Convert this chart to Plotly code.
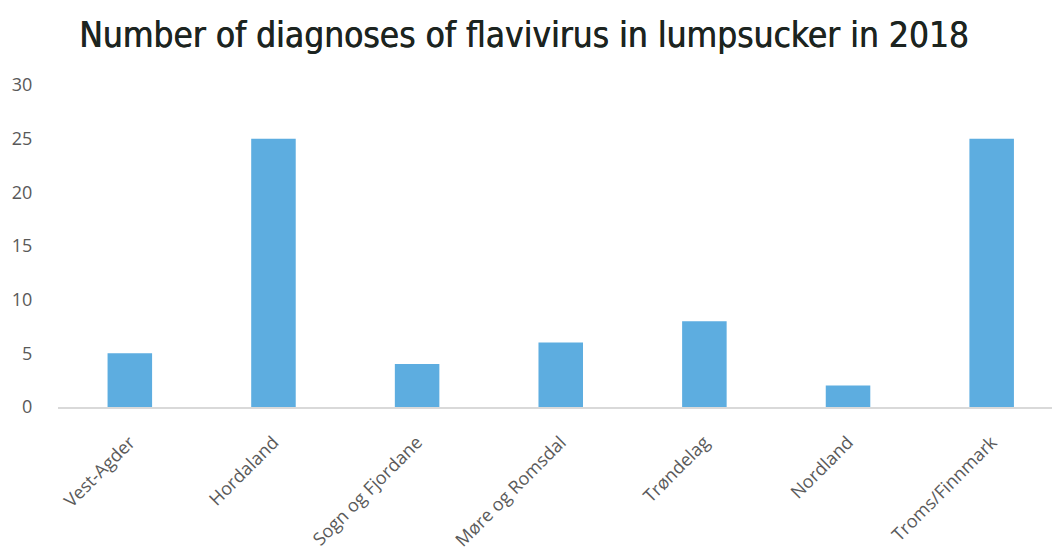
import plotly.graph_objects as go

# Diagnoses per county
counties = ["Vest-Agder", "Hordaland", "Sogn og Fjordane", "Møre og Romsdal",
            "Trøndelag", "Nordland", "Troms/Finnmark"]
diagnoses = [5, 25, 4, 6, 8, 2, 25]
y_ticks = [0, 5, 10, 15, 20, 25, 30]

fig = go.Figure(
    go.Bar(
        x=counties,
        y=diagnoses,
        width=0.31,
        marker=dict(color="#5DADE0", line=dict(width=0)),
    )
)

fig.update_layout(
    width=1052,
    height=553,
    margin=dict(l=58, r=0, t=85, b=146, autoexpand=False),
    paper_bgcolor="white",
    plot_bgcolor="white",
    showlegend=False,
    title=dict(
        text="Number of diagnoses of flavivirus in lumpsucker in 2018",
        x=0.498,
        xanchor="center",
        y=0.937,
        yanchor="middle",
        font=dict(family="DejaVu Sans Condensed", size=35, color="#1c2420",
                  shadow="0.6px 0 0 #1c2420"),
    ),
)

fig.update_xaxes(
    range=[-0.5, 6.42],
    tickangle=-45,
    tickfont=dict(family="Open Sans", size=18, color="#5a5a5a"),
    ticklabelstandoff=16,
    automargin=False,
    showline=True,
    linecolor="#d9d9d9",
    linewidth=1.5,
    showgrid=False,
    ticks="",
)

fig.update_yaxes(
    range=[0, 30],
    tickvals=y_ticks,
    tickfont=dict(family="Open Sans", size=18, color="#595959"),
    automargin=False,
    showgrid=False,
    zeroline=False,
    showline=False,
    ticks="outside",
    ticklen=21,
    tickcolor="white",
)

fig.write_html("out.html")
